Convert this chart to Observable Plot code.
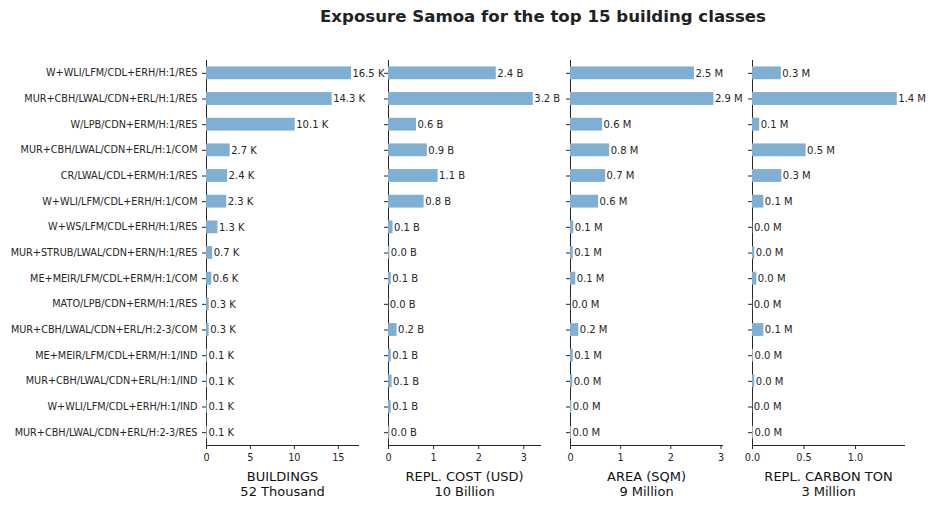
<!DOCTYPE html>
<html>
<head>
<meta charset="utf-8">
<script src="https://cdn.jsdelivr.net/npm/d3@7"></script>
<script src="https://cdn.jsdelivr.net/npm/@observablehq/plot@0.6"></script>
<style>
  html, body { margin: 0; padding: 0; background: #fff; }
  #wrap { position: relative; width: 934px; height: 510px; font-family: "DejaVu Sans", sans-serif; }
  #title { position: absolute; left: 0; top: 7px; width: 1086px; text-align: center; font-weight: bold; font-size: 16.6px; color: #222; }
  .panel { position: absolute; top: 0; }
</style>
</head>
<body>
<div id="wrap"><div id="title">Exposure Samoa for the top 15 building classes</div></div>
<script>
const categories = [
  "W+WLI/LFM/CDL+ERH/H:1/RES",
  "MUR+CBH/LWAL/CDN+ERL/H:1/RES",
  "W/LPB/CDN+ERM/H:1/RES",
  "MUR+CBH/LWAL/CDN+ERL/H:1/COM",
  "CR/LWAL/CDL+ERM/H:1/RES",
  "W+WLI/LFM/CDL+ERH/H:1/COM",
  "W+WS/LFM/CDL+ERH/H:1/RES",
  "MUR+STRUB/LWAL/CDN+ERN/H:1/RES",
  "ME+MEIR/LFM/CDL+ERM/H:1/COM",
  "MATO/LPB/CDN+ERM/H:1/RES",
  "MUR+CBH/LWAL/CDN+ERL/H:2-3/COM",
  "ME+MEIR/LFM/CDL+ERM/H:1/IND",
  "MUR+CBH/LWAL/CDN+ERL/H:1/IND",
  "W+WLI/LFM/CDL+ERH/H:1/IND",
  "MUR+CBH/LWAL/CDN+ERL/H:2-3/RES"
];
// thousands of buildings
const buildings = [16.5, 14.3, 10.1, 2.7, 2.4, 2.3, 1.3, 0.7, 0.6, 0.3, 0.3, 0.1, 0.1, 0.1, 0.1];
// billions USD
const replCost = [2.39, 3.21, 0.62, 0.86, 1.10, 0.79, 0.10, 0.03, 0.06, 0.005, 0.19, 0.06, 0.08, 0.06, 0.03];
// millions sqm
const area = [2.47, 2.86, 0.64, 0.78, 0.70, 0.56, 0.066, 0.055, 0.105, 0.005, 0.165, 0.055, 0.045, 0.026, 0.02];
// millions tons
const carbon = [0.28, 1.405, 0.07, 0.52, 0.285, 0.11, 0.004, 0.022, 0.042, 0.002, 0.11, 0.01, 0.022, 0.003, 0.01];

const panels = [
  {values: buildings, unit: "K", label: "BUILDINGS", total: "52 Thousand", max: 17.3, ticks: [0, 5, 10, 15], fmt: d3.format("d")},
  {values: replCost, unit: "B", label: "REPL. COST (USD)", total: "10 Billion", max: 3.37, ticks: [0, 1, 2, 3], fmt: d3.format("d")},
  {values: area, unit: "M", label: "AREA (SQM)", total: "9 Million", max: 3.03, ticks: [0, 1, 2, 3], fmt: d3.format("d")},
  {values: carbon, unit: "M", label: "REPL. CARBON TON", total: "3 Million", max: 1.475, ticks: [0, 0.5, 1.0], fmt: d3.format(".1f")}
];

const frameLefts = [206, 388, 570, 752];
const frameW = 152;
const wrap = document.getElementById("wrap");
const barColor = "#7fb0d4";
const ink = "#262626";

panels.forEach((p, i) => {
  const ml = i === 0 ? 206 : 6;
  const left = frameLefts[i] - ml;
  const mr = 26;
  const data = categories.map((c, k) => ({cat: c, v: p.values[k]}));
  const chart = Plot.plot({
    width: ml + frameW + mr,
    height: 510,
    marginLeft: ml,
    marginRight: mr,
    marginTop: 60,
    marginBottom: 65,
    style: {background: "transparent", overflow: "visible", fontFamily: "DejaVu Sans, sans-serif", fontSize: "9.7px", color: ink},
    x: {domain: [0, p.max], ticks: p.ticks, tickFormat: p.fmt, tickSize: 4, tickPadding: 5, line: true, label: null},
    y: {domain: categories, paddingInner: 0.5, paddingOuter: 0.25, round: false, tickSize: 4, line: true, label: null,
        tickFormat: i === 0 ? (d => d) : (() => "")},
    marks: [
      Plot.barX(data, {x: "v", y: "cat", fill: barColor}),
      Plot.text(data, {x: "v", y: "cat", text: d => d.v.toFixed(1) + " " + p.unit, textAnchor: "start", dx: 1, fill: ink, fontSize: 10}),
      Plot.text([p.label], {frameAnchor: "bottom", dy: 35, text: d => d, fontSize: 13, fill: "#111"}),
      Plot.text([p.total], {frameAnchor: "bottom", dy: 50, text: d => d, fontSize: 13, fill: "#111"})
    ]
  });
  chart.classList.add("panel");
  chart.style.left = left + "px";
  chart.style.position = "absolute";
  chart.style.top = "0px";
  wrap.appendChild(chart);
});
</script>
</body>
</html>
